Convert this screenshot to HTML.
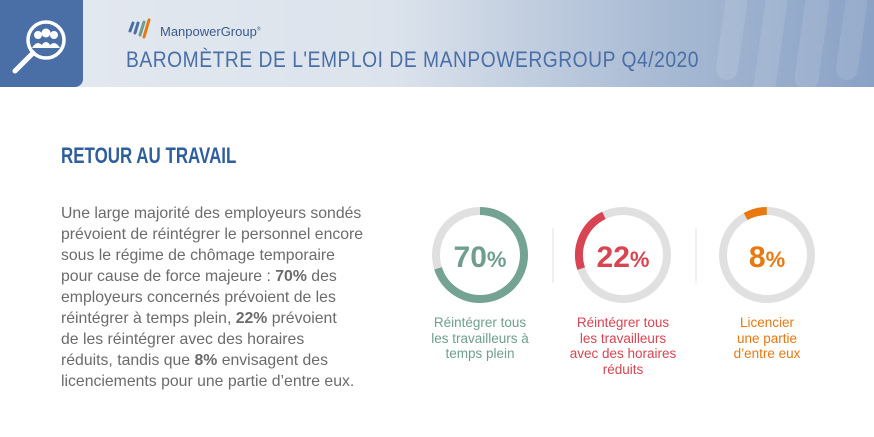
<!DOCTYPE html>
<html><head><meta charset="utf-8"><style>
body{margin:0;width:874px;height:437px;background:#fff;position:relative;overflow:hidden;font-family:"Liberation Sans",sans-serif}
.hdr{position:absolute;left:0;top:0;width:874px;height:87px;background:linear-gradient(90deg,#e4e9f0 0%,#dce3ec 45%,#a9bbd4 75%,#8aa2c6 100%)}
.icon{position:absolute;left:0;top:0;width:83px;height:87px;background:#4a6fa6;border-radius:0 0 8px 0}
.t{position:absolute;white-space:nowrap}
.body{left:61px;font-size:15.8px;color:#6b6b6b}
.lab{font-size:13.5px;text-align:center;line-height:15.5px;width:140px}
</style></head><body>
<div class="hdr">
<svg style="position:absolute;left:600px;top:0" width="274" height="87"><g fill="#fff" opacity="0.1">
<rect x="120" y="-10" width="22" height="90" rx="11" transform="rotate(8 130 40)"/>
<rect x="160" y="-10" width="22" height="110" rx="11" transform="rotate(8 170 40)"/>
<rect x="200" y="-10" width="24" height="100" rx="12" transform="rotate(8 210 40)"/>
<rect x="240" y="-10" width="22" height="90" rx="11" transform="rotate(8 250 40)"/></g></svg>
</div>
<div class="icon"><svg width="83" height="87"><circle cx="46" cy="40" r="18" fill="none" stroke="#fff" stroke-width="3.5"/>
<line x1="33" y1="53" x2="15" y2="71" stroke="#fff" stroke-width="5" stroke-linecap="round"/>
<circle cx="38" cy="35" r="4" fill="#fff"/><circle cx="46" cy="33" r="4.5" fill="#fff"/><circle cx="54" cy="35" r="4" fill="#fff"/>
<path d="M32 48 q6-10 12 0z M40 48 q6-12 12 0z M48 48 q6-10 12 0z" fill="#fff"/></svg></div>
<svg style="position:absolute;left:127px;top:17px" width="24" height="22"><g stroke-width="3" stroke-linecap="round"><line x1="3" y1="14" x2="6" y2="6" stroke="#4a6fa6"/><line x1="8" y1="16" x2="11" y2="6" stroke="#4a6fa6"/><line x1="13" y1="18" x2="17" y2="5" stroke="#6f9e8f"/><line x1="17" y1="20" x2="22" y2="3" stroke="#e8780f"/></g></svg>
<div class="t" style="left:160px;top:24px;font-size:13px;color:#3c5a8c">ManpowerGroup<sup style="font-size:5px">®</sup></div>
<div class="t" style="left:126px;top:47px;font-size:22px;color:#4a6fa6;letter-spacing:0.6px;transform:scaleX(0.875);transform-origin:left">BAROMÈTRE DE L'EMPLOI DE MANPOWERGROUP Q4/2020</div>
<div class="t" style="left:61px;top:143px;font-size:22px;font-weight:bold;color:#2f5e9c;transform:scaleX(0.77);transform-origin:left">RETOUR AU TRAVAIL</div>
<div class="t body" style="top:205px">Une large majorité des employeurs sondés</div>
<div class="t body" style="top:226px">prévoient de réintégrer le personnel encore</div>
<div class="t body" style="top:247px">sous le régime de chômage temporaire</div>
<div class="t body" style="top:268px">pour cause de force majeure : <b>70%</b> des</div>
<div class="t body" style="top:289px">employeurs concernés prévoient de les</div>
<div class="t body" style="top:310px">réintégrer à temps plein, <b>22%</b> prévoient</div>
<div class="t body" style="top:331px">de les réintégrer avec des horaires</div>
<div class="t body" style="top:352px">réduits, tandis que <b>8%</b> envisagent des</div>
<div class="t body" style="top:373px">licenciements pour une partie d’entre eux.</div>
<svg style="position:absolute;left:0;top:0" width="874" height="437">
<line x1="553" y1="228" x2="553" y2="283" stroke="#e2e2e2" stroke-width="1"/>
<line x1="696" y1="228" x2="696" y2="283" stroke="#e2e2e2" stroke-width="1"/>
<g fill="none" stroke-width="8">
<circle cx="480" cy="255" r="44" stroke="#e0e0e0"/>
<circle cx="480" cy="255" r="44" stroke="#74a394" stroke-dasharray="193.5 400" transform="rotate(-90 480 255)"/>
<circle cx="623" cy="255" r="44" stroke="#e0e0e0"/>
<circle cx="623" cy="255" r="44" stroke="#d84452" stroke-dasharray="63 400" transform="rotate(-198 623 255)"/>
<circle cx="767" cy="255" r="44" stroke="#e0e0e0"/>
<circle cx="767" cy="255" r="44" stroke="#e8780f" stroke-dasharray="22 400" transform="rotate(-119 767 255)"/>
</g>
<g font-family="Liberation Sans" font-weight="bold" text-anchor="middle">
<text x="480" y="267" font-size="30" fill="#6f9e8f">70<tspan font-size="22">%</tspan></text>
<text x="623" y="267" font-size="30" fill="#d84452">22<tspan font-size="22">%</tspan></text>
<text x="767" y="267" font-size="30" fill="#e8780f">8<tspan font-size="22">%</tspan></text>
</g></svg>
<div class="t lab" style="left:410px;top:315px;color:#6f9e8f">Réintégrer tous<br>les travailleurs à<br>temps plein</div>
<div class="t lab" style="left:553px;top:315px;color:#d84452">Réintégrer tous<br>les travailleurs<br>avec des horaires<br>réduits</div>
<div class="t lab" style="left:697px;top:315px;color:#e8780f">Licencier<br>une partie<br>d’entre eux</div>
</body></html>
